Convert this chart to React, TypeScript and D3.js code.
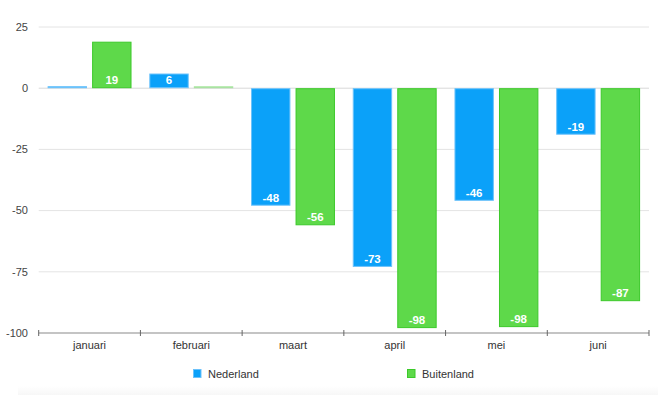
import React from "react";
import * as d3 from "d3";

const categories = ["januari", "februari", "maart", "april", "mei", "juni"];
const nederland = [0.6, 6, -48, -73, -46, -19];
const buitenland = [19, 0.2, -56, -98, -97.6, -87];
const seriesNames = ["Nederland", "Buitenland"];
const yTicks = [25, 0, -25, -50, -75, -100];

const W = 670;
const H = 395;
const left = 38.7;
const right = 649;
const top = 27;
const bottom = 333;

const fills = ["#0ba1f9", "#5ed94a"];
const strokes = ["#6cc2fb", "#3cc92a"];

export default function App() {
  const x = d3.scaleBand<string>().domain(categories).range([left, right]).paddingInner(0).paddingOuter(0);
  const x1 = d3
    .scaleBand<string>()
    .domain(seriesNames)
    .range([0, x.bandwidth()])
    .paddingInner(0.115)
    .paddingOuter(0.2);
  const y = d3.scaleLinear().domain([-100, 25]).range([bottom, top]);
  const series = [nederland, buitenland];
  const font = "'Liberation Sans', Arial, Helvetica, sans-serif";

  return (
    <svg width={W} height={H} style={{ position: "absolute", left: 0, top: 0, background: "#fff" }}>
      <defs>
        <linearGradient id="foot" x1="0" y1="0" x2="0" y2="1">
          <stop offset="0" stopColor="#ffffff" />
          <stop offset="1" stopColor="#f7f7f7" />
        </linearGradient>
      </defs>
      <rect x={18} y={386} width={640} height={9} fill="url(#foot)" />
      {yTicks.map((t) => (
        <g key={t}>
          {t !== -100 && (
            <line x1={left} x2={right} y1={y(t)} y2={y(t)} stroke={t === 0 ? "#d8d8d8" : "#e4e4e4"} strokeWidth={1} />
          )}
          <text
            x={28}
            y={y(t)}
            dy="0.35em"
            textAnchor="end"
            fontSize={11}
            fill="#444"
            fontFamily={font}
          >
            {t}
          </text>
        </g>
      ))}
      {categories.map((c, i) =>
        series.map((vals, s) => {
          const v = vals[i];
          const bx = (x(c) as number) + (x1(seriesNames[s]) as number);
          const bw = x1.bandwidth();
          const y0 = y(Math.max(0, v));
          const y1 = y(Math.min(0, v));
          const h = Math.max(1, y1 - y0);
          return (
            <g key={c + s}>
              <rect
                x={bx + 0.5}
                y={Math.min(y0 + 0.5, y1 - 1.5)}
                width={bw - 1}
                height={Math.max(1, h - 1)}
                fill={fills[s]}
                stroke={strokes[s]}
                strokeWidth={1}
                opacity={Math.abs(v) < 0.5 ? 0.4 : 1}
              />
              {h > 10 && (
                <text
                  x={bx + bw / 2}
                  y={y1 - 4}
                  textAnchor="middle"
                  fontSize={11.5}
                  fontWeight="bold"
                  fill="#fff"
                  fontFamily={font}
                >
                  {Math.round(v)}
                </text>
              )}
            </g>
          );
        })
      )}
      <line x1={left} x2={right} y1={bottom} y2={bottom} stroke="#8a8a8a" strokeWidth={1.2} />
      {d3.range(categories.length + 1).map((i) => {
        const tx = left + i * x.bandwidth();
        return <line key={i} x1={tx} x2={tx} y1={bottom - 3} y2={bottom + 3} stroke="#666" strokeWidth={1} />;
      })}
      {categories.map((c) => (
        <text
          key={c}
          x={(x(c) as number) + x.bandwidth() / 2}
          y={bottom + 16}
          textAnchor="middle"
          fontSize={11}
          fill="#333"
          fontFamily={font}
        >
          {c}
        </text>
      ))}
      {seriesNames.map((n, s) => {
        const lx = s === 0 ? 193 : 407;
        return (
          <g key={n}>
            <rect x={lx + 0.5} y={369.5} width={7.5} height={8} fill={fills[s]} stroke={strokes[s]} strokeWidth={1} />
            <text x={lx + 15} y={377.5} fontSize={11} fill="#333" fontFamily={font}>
              {n}
            </text>
          </g>
        );
      })}
    </svg>
  );
}
